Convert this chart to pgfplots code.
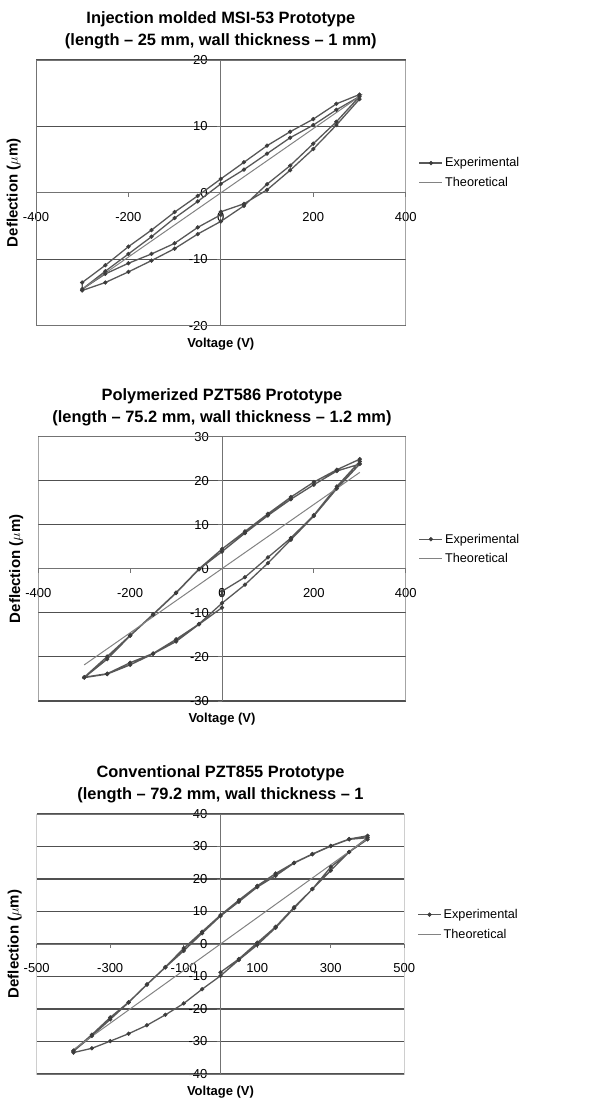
\documentclass[border=0pt]{standalone}
\usepackage{fontspec}
\setmainfont{Liberation Sans}
\usepackage{pgfplots}
\pgfplotsset{compat=1.18}

\definecolor{linegray}{RGB}{88,88,88}
\definecolor{markgray}{RGB}{60,60,60}
\definecolor{theogray}{RGB}{130,130,130}
\definecolor{gridgray}{RGB}{80,80,80}
\definecolor{boxgray}{RGB}{115,115,115}

\pgfplotsset{
  hyst/.style={
    scale only axis,
    anchor=south west,
    axis lines=middle,
    hide obscured x ticks=false,
    hide obscured y ticks=false,
    ymajorgrids,
    grid style={gridgray, line width=1.1pt},
    axis line style={boxgray, line width=0.9pt, -},
    tick style={boxgray, line width=0.9pt},
    tick align=outside,
    major tick length=4pt,
    /pgf/number format/assume math mode=true,
    tick label style={font=\fontsize{13}{15}\selectfont},
    xticklabel style={anchor=center, yshift=-20pt},
    yticklabel style={anchor=east, inner sep=0pt, xshift=-9pt},
    title style={at={(0.5,1)}, anchor=south, align=center, inner sep=0pt, yshift=4.5pt,
      font=\fontsize{16.4}{22}\selectfont\bfseries},
    xlabel style={at={(rel axis cs:0.5,0)}, anchor=center, yshift=-18.5pt,
      font=\fontsize{13}{15}\selectfont\bfseries},
    ylabel style={at={(rel axis cs:-0.06,0.5)}, anchor=center, rotate=90,
      font=\fontsize{15}{17}\selectfont\bfseries},
    xlabel={Voltage (V)},
    ylabel={Deflection ($\mu$m)},
    legend style={draw=none, fill=none, at={(rel axis cs:1.035,0.575)}, anchor=west,
      font=\fontsize{12.7}{15}\selectfont, row sep=5pt, inner sep=0pt},
    legend cell align=left,
    legend image code/.code={\draw[mark repeat=2,mark phase=2,##1] plot coordinates {(0pt,0pt) (11.5pt,0pt) (23pt,0pt)};},
  },
  expt/.style={linegray, line width=1.3pt, mark=*, mark size=1.9pt, mark options={fill=markgray, draw=markgray, line width=0.5pt}},
  theo/.style={theogray, line width=1pt, no marks},
}

\begin{document}
\begin{tikzpicture}
\path[use as bounding box] (0,0) rectangle (604pt,1106pt);

% Injection molded MSI-53
\begin{axis}[hyst,
  at={(36pt,780.3pt)}, width=369.7pt, height=265.7pt,
  xmin=-400, xmax=400, ymin=-20, ymax=20,
  xtick={-400,-200,0,200,400}, ytick={-20,-10,0,10,20},
  title={Injection molded MSI-53 Prototype\\(length \textendash\ 25 mm, wall thickness \textendash\ 1 mm)},
]
\addplot[expt] coordinates {
 (0,-2.85) (50,-1.65) (100,0.45) (150,3.4) (200,6.6) (250,10.2) (300,14.1)
 (300,14.8) (250,13.4) (200,11.1) (150,9.2) (100,7.1) (50,4.6) (0,2.1) (-50,-0.45) (-100,-2.9)
 (-150,-5.6) (-200,-8.1) (-250,-10.9) (-300,-13.5)
 (-300,-14.7) (-250,-13.5) (-200,-11.9) (-150,-10.2) (-100,-8.4) (-50,-6.2) (0,-4.3) (50,-1.95)
 (100,1.3) (150,4.1) (200,7.4) (250,10.7) (300,14.5)
 (250,12.5) (200,10.2) (150,8.3) (100,5.9) (50,3.5) (0,1.35) (-50,-1.3) (-100,-3.8) (-150,-6.6)
 (-200,-9.2) (-250,-11.8) (-300,-14.5)
 (-250,-12.2) (-200,-10.6) (-150,-9.2) (-100,-7.6) (-50,-5.2) (0,-3.3)
};
\addlegendentry{Experimental}
\addplot[theo] coordinates {(-300,-14.5) (300,14.5)};
\addlegendentry{Theoretical}
\draw[boxgray, line width=0.9pt] (rel axis cs:0,0) rectangle (rel axis cs:1,1);
\end{axis}

% Polymerized PZT586
\begin{axis}[hyst,
  at={(38.3pt,405pt)}, width=367.4pt, height=264.3pt,
  xmin=-400, xmax=400, ymin=-30, ymax=30,
  xtick={-400,-200,0,200,400}, ytick={-30,-20,-10,0,10,20,30},
  title={Polymerized PZT586 Prototype\\(length \textendash\ 75.2 mm, wall thickness \textendash\ 1.2 mm)},
]
\addplot[expt] coordinates {
 (0,-5.9) (0,-5.1) (50,-1.9) (100,2.6) (150,7.0) (200,12.2) (250,18.7) (300,24.4)
 (300,24.9) (250,22.5) (200,19.7) (150,16.3) (100,12.5) (50,8.5) (0,4.5) (-50,0.0) (-100,-5.4)
 (-150,-10.3) (-200,-15.1) (-250,-19.9) (-300,-24.6)
 (-250,-23.8) (-200,-21.3) (-150,-19.2) (-100,-16.0) (-50,-12.5) (0,-7.8) (50,-3.6) (100,1.3)
 (150,6.6) (200,12.0) (250,18.2) (300,23.8)
 (250,22.2) (200,19.1) (150,15.8) (100,12.1) (50,8.1) (0,3.9) (-50,-0.1) (-100,-5.5) (-150,-10.4)
 (-200,-15.2) (-250,-20.5) (-300,-24.7)
 (-250,-23.9) (-200,-21.8) (-150,-19.3) (-100,-16.5) (-50,-12.6) (0,-8.8)
};
\addlegendentry{Experimental}
\addplot[theo] coordinates {(-300,-21.8) (300,21.9)};
\addlegendentry{Theoretical}
\draw[boxgray, line width=0.9pt] (rel axis cs:0,0) rectangle (rel axis cs:1,1);
\end{axis}

% Conventional PZT855
\begin{axis}[hyst,
  at={(36.7pt,32pt)}, width=367.6pt, height=260pt,
  xmin=-500, xmax=500, ymin=-40, ymax=40,
  xtick={-500,-300,-100,100,300,500}, ytick={-40,-30,-20,-10,0,10,20,30,40},
  title={Conventional PZT855 Prototype\\(length \textendash\ 79.2 mm, wall thickness \textendash\ 1},
]
\addplot[expt] coordinates {
 (0,-8.7) (50,-4.6) (100,0.4) (150,5.3) (200,11.3) (250,16.9) (300,22.6) (350,28.3) (400,32.2)
 (400,33.3) (350,32.3) (300,30.2) (250,27.7) (200,25.0) (150,21.7) (100,17.9) (50,13.5) (0,8.9)
 (-50,3.8) (-100,-1.3) (-150,-7.1) (-200,-12.4) (-250,-17.9) (-300,-22.6) (-350,-27.9) (-400,-32.8)
 (-400,-33.4) (-350,-32.1) (-300,-29.9) (-250,-27.6) (-200,-25.0) (-150,-21.8) (-100,-18.3)
 (-50,-13.9) (0,-9.8) (50,-4.9) (100,-0.3) (150,5.0) (200,11.0) (250,16.9) (300,23.7) (350,28.3) (400,32.7)
 (350,32.2) (300,30.1) (250,27.6) (200,24.9) (150,21.0) (100,17.5) (50,13.0) (0,8.6) (-50,3.3)
 (-100,-2.1) (-150,-7.2) (-200,-12.5) (-250,-18.0) (-300,-23.2) (-350,-28.3) (-400,-33.0)
};
\addlegendentry{Experimental}
\addplot[theo] coordinates {(-400,-32.5) (400,32.5)};
\addlegendentry{Theoretical}
\draw[boxgray, line width=0.9pt] (rel axis cs:0,0) rectangle (rel axis cs:1,1);
\end{axis}
\end{tikzpicture}
\end{document}
